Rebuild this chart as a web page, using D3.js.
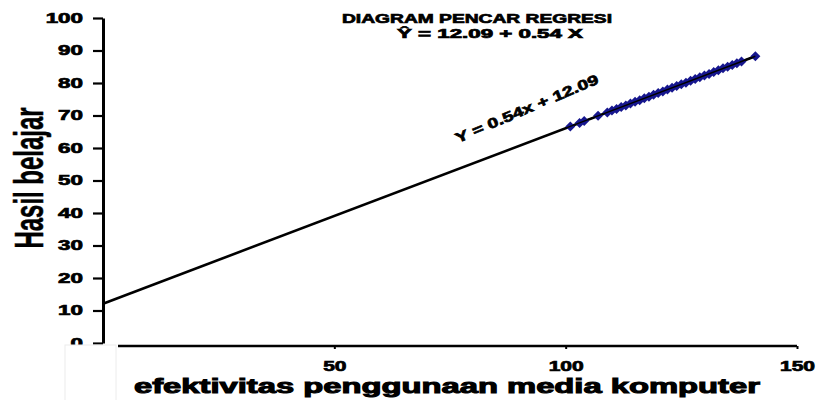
<!DOCTYPE html>
<html>
<head>
<meta charset="utf-8">
<script src="https://cdn.jsdelivr.net/npm/d3@7"></script>
<style>
  body { margin: 0; background: #fff; }
  text { font-family: "Liberation Sans", Arial, sans-serif; font-weight: bold; fill: #000; stroke: #000; stroke-width: 0.7px; }
</style>
</head>
<body>
<svg id="chart" width="817" height="400"></svg>
<script>
// data
var xValues = [101, 103, 104, 107, 109, 110, 111, 112, 113, 114, 115, 116, 117, 118, 119, 120, 121, 122,
  123, 124, 125, 126, 127, 128, 129, 130, 131, 132, 133, 134, 135, 136, 137, 138, 141];
var yValues = [66.6, 67.7, 68.3, 69.9, 70.9, 71.5, 72.0, 72.6, 73.1, 73.7, 74.2, 74.7, 75.3, 75.8, 76.4, 76.9, 77.4, 78.0,
  78.5, 79.1, 79.6, 80.1, 80.7, 81.2, 81.8, 82.3, 82.8, 83.4, 83.9, 84.5, 85.0, 85.5, 86.1, 86.6, 88.2];
var regression = { intercept: 12.09, slope: 0.54 };
var lineRange = [0, 141];
var yTicks = [0, 10, 20, 30, 40, 50, 60, 70, 80, 90, 100];
var xTicks = [50, 100, 150];
var title = "DIAGRAM PENCAR REGRESI";
var subtitle = "\u0176 = 12.09 + 0.54 X";
var trendLabel = "Y = 0.54x + 12.09";
var xTitle = "efektivitas penggunaan media komputer";
var yTitle = "Hasil belajar";

var svg = d3.select("#chart");

var x = d3.scaleLinear().domain([0, 150]).range([103, 797]);
var y = d3.scaleLinear().domain([0, 100]).range([343, 18]);

// stretch text horizontally like the picture
function stretch(sel, k) {
  sel.each(function () {
    var w = this.getComputedTextLength();
    d3.select(this).attr("textLength", w * k).attr("lengthAdjust", "spacingAndGlyphs");
  });
}

// y axis
var gy = svg.append("g")
  .attr("transform", "translate(" + x(0) + ",0)")
  .call(d3.axisLeft(y).tickValues(yTicks).tickSize(10).tickSizeOuter(0).tickPadding(10));
gy.select(".domain").attr("stroke-width", 3);
gy.selectAll(".tick line").attr("stroke-width", 2.2);
gy.selectAll(".tick text").attr("font-family", null).style("font-size", "14px");
stretch(gy.selectAll(".tick text"), 1.6);

// x axis
var gx = svg.append("g")
  .attr("transform", "translate(0," + (y(0) + 3) + ")")
  .call(d3.axisBottom(x).tickValues(xTicks).tickSize(3).tickSizeOuter(0).tickPadding(12));
gx.select(".domain").remove();
gx.append("line")
  .attr("x1", x(0) + 15).attr("x2", x(150))
  .attr("stroke", "#000").attr("stroke-width", 2.6);
gx.selectAll(".tick line").attr("stroke-width", 2);
gx.selectAll(".tick text").attr("font-family", null).style("font-size", "14px");
stretch(gx.selectAll(".tick text"), 1.5);

// box covering the corner
svg.append("rect")
  .attr("x", 65).attr("y", y(0) + 2)
  .attr("width", 51).attr("height", 60)
  .attr("fill", "#fff").attr("stroke", "#ececec").attr("stroke-width", 1);

// regression line
svg.append("line")
  .attr("x1", x(lineRange[0])).attr("y1", y(regression.intercept + regression.slope * lineRange[0]))
  .attr("x2", x(lineRange[1])).attr("y2", y(regression.intercept + regression.slope * lineRange[1]))
  .attr("stroke", "#000").attr("stroke-width", 2.6);

// points
var pts = xValues.map(function (d, i) { return { x: d, y: yValues[i] }; });
svg.selectAll(".pt")
  .data(pts)
  .enter()
  .append("path")
  .attr("class", "pt")
  .attr("d", d3.symbol(d3.symbolSquare, 50))
  .attr("transform", function (d) { return "translate(" + x(d.x) + "," + y(d.y) + ") rotate(45)"; })
  .attr("fill", "#16168e");

// line drawn again through the points, thin
svg.append("line")
  .attr("x1", x(100)).attr("y1", y(regression.intercept + regression.slope * 100))
  .attr("x2", x(lineRange[1])).attr("y2", y(regression.intercept + regression.slope * lineRange[1]))
  .attr("stroke", "#000").attr("stroke-width", 1.4);

// titles
svg.append("text")
  .attr("x", 477).attr("y", 23)
  .attr("text-anchor", "middle")
  .style("font-size", "13px")
  .text(title)
  .attr("textLength", 270).attr("lengthAdjust", "spacingAndGlyphs");

svg.append("text")
  .attr("x", 490).attr("y", 38)
  .attr("text-anchor", "middle")
  .style("font-size", "12px")
  .text(subtitle)
  .attr("textLength", 186).attr("lengthAdjust", "spacingAndGlyphs");

svg.append("text")
  .attr("transform", "translate(" + x(76.7) + "," + y(61.5) + ") rotate(-23)")
  .style("font-size", "14px")
  .text(trendLabel)
  .attr("textLength", 154).attr("lengthAdjust", "spacingAndGlyphs");

svg.append("text")
  .attr("x", 447).attr("y", 393)
  .attr("text-anchor", "middle")
  .style("font-size", "20px")
  .style("stroke-width", "1px")
  .text(xTitle)
  .attr("textLength", 626).attr("lengthAdjust", "spacingAndGlyphs");

svg.append("text")
  .attr("transform", "translate(43,178) rotate(-90)")
  .attr("text-anchor", "middle")
  .style("font-size", "41px")
  .style("stroke-width", "0.5px")
  .style("font-family", "'Liberation Sans Narrow', 'Liberation Sans', Arial, sans-serif")
  .text(yTitle)
  .attr("textLength", 141).attr("lengthAdjust", "spacingAndGlyphs");
</script>
</body>
</html>
